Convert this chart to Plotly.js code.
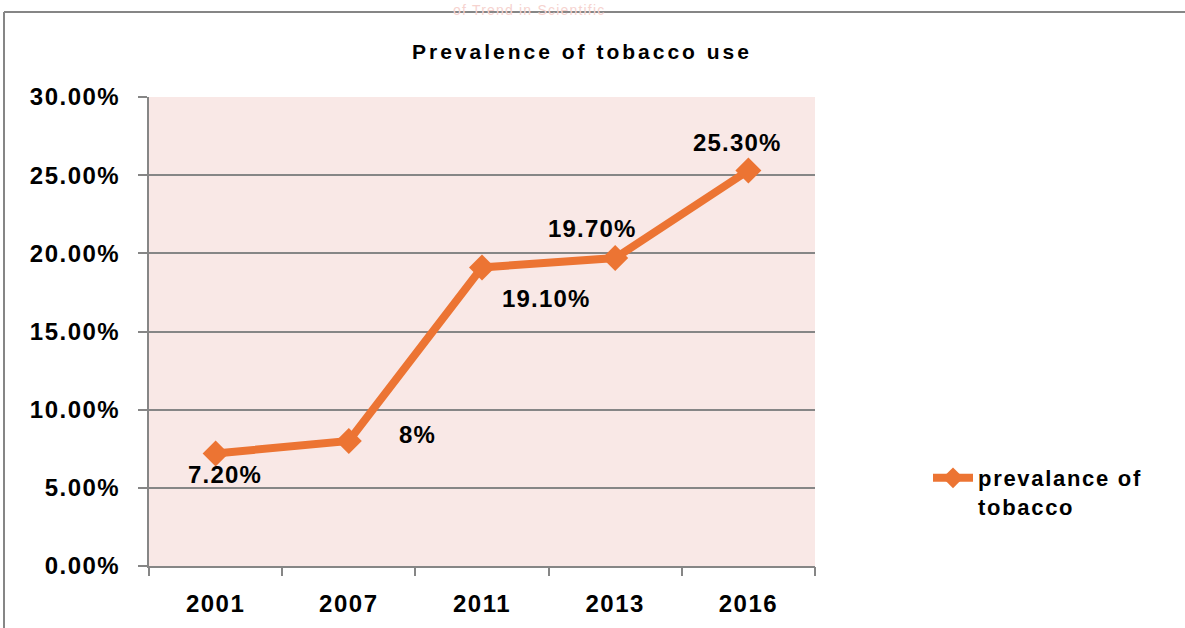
<!DOCTYPE html>
<html>
<head>
<meta charset="utf-8">
<script src="https://cdn.plot.ly/plotly-3.0.1.min.js"></script>
<style>
html,body{margin:0;padding:0;background:#fff;}
#chart{width:1185px;height:628px;}
.gtitle{letter-spacing:3px;}
.legendtext{letter-spacing:1.7px;}
.xtick text{letter-spacing:1.5px;}
.ytick text{letter-spacing:1.5px;}
.annotation-text{letter-spacing:1.2px;}
</style>
</head>
<body>
<div id="chart"></div>
<script>
const years = ["2001", "2007", "2011", "2013", "2016"];
const prevalence = [0.072, 0.08, 0.191, 0.197, 0.253];
const labels = ["7.20%", "8%", "19.10%", "19.70%", "25.30%"];
const labelShiftX = [9, 69, 64, -23, -11];
const labelShiftY = [-21, 6, -31, 30, 28];

const idx = years.map((_, i) => i);
const bounds = years.map((_, i) => i - 0.5).concat([years.length - 0.5]);

const trace = {
  x: idx,
  y: prevalence,
  type: "scatter",
  mode: "lines+markers",
  name: "prevalance of<br>tobacco",
  line: {color: "#EC7433", width: 8},
  marker: {symbol: "diamond", size: 20, color: "#EC7433"},
  hoverinfo: "skip"
};

const boundaryTrace = {
  x: bounds, y: bounds.map(() => null), xaxis: "x2", yaxis: "y",
  type: "scatter", mode: "none", showlegend: false, hoverinfo: "skip"
};

const annotations = idx.map((xi, i) => ({
  x: xi, y: prevalence[i], xref: "x", yref: "y",
  text: labels[i], showarrow: false,
  xshift: labelShiftX[i], yshift: labelShiftY[i],
  font: {family: "Liberation Sans, Arial, sans-serif", size: 24, color: "#000", weight: "bold"}
}));
annotations.push({
  xref: "paper", yref: "paper", x: (607 - 149) / 666, y: 1 + 97 / 469, yanchor: "top",
  text: "of Trend in Scientific", showarrow: false,
  font: {family: "Liberation Sans, Arial, sans-serif", size: 14, color: "#f6d3cf"}
});

const xrange = [-0.5, years.length - 0.5];

const layout = {
  width: 1185, height: 628,
  margin: {l: 149, r: 370, t: 97, b: 62},
  paper_bgcolor: "#ffffff",
  plot_bgcolor: "#F9E8E6",
  font: {family: "Liberation Sans, Arial, sans-serif", color: "#000"},
  title: {
    text: "<b>Prevalence of tobacco use</b>",
    x: 582 / 1185, xanchor: "center",
    y: 1 - 52 / 628, yanchor: "middle",
    font: {family: "Liberation Sans, Arial, sans-serif", size: 21, color: "#000"}
  },
  xaxis: {
    range: xrange,
    tickmode: "array", tickvals: idx, ticktext: years,
    ticks: "", ticklabelstandoff: 15,
    showline: true, linecolor: "#868686", linewidth: 2,
    showgrid: false, zeroline: false,
    tickfont: {size: 24, weight: "bold", color: "#000"},
    fixedrange: true
  },
  xaxis2: {
    overlaying: "x", anchor: "y", side: "bottom",
    range: xrange,
    tickmode: "array", tickvals: bounds,
    showticklabels: false,
    ticks: "outside", ticklen: 9, tickwidth: 2, tickcolor: "#868686",
    showline: false, showgrid: false, zeroline: false,
    fixedrange: true
  },
  yaxis: {
    range: [0, 0.3], dtick: 0.05, tickformat: ".2%",
    ticks: "outside", ticklen: 9, tickwidth: 2, tickcolor: "#868686",
    ticklabelstandoff: 13,
    showline: true, linecolor: "#868686", linewidth: 2,
    showgrid: true, gridcolor: "#868686", gridwidth: 2,
    zeroline: false,
    tickfont: {size: 24, weight: "bold", color: "#000"},
    fixedrange: true
  },
  legend: {
    x: (928 - 149) / 666, y: (566 - 457) / 469, xanchor: "left", yanchor: "top",
    valign: "top",
    font: {size: 22, color: "#000", weight: "bold"},
    bgcolor: "rgba(0,0,0,0)",
    itemwidth: 40,
    tracegroupgap: 0
  },
  showlegend: true,
  annotations: annotations,
  shapes: [
    {type: "line", xref: "paper", yref: "paper", x0: -145 / 666, x1: -145 / 666, y0: 1 + 85 / 469, y1: -0.2, line: {color: "#868686", width: 2}},
    {type: "line", xref: "paper", yref: "paper", x0: -145 / 666, x1: 1.56, y0: 1 + 85 / 469, y1: 1 + 85 / 469, line: {color: "#868686", width: 2}}
  ]
};

Plotly.newPlot("chart", [trace, boundaryTrace], layout, {displayModeBar: false, staticPlot: true});
</script>
</body>
</html>
